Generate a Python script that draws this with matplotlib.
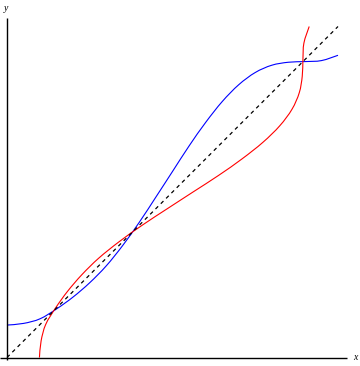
import matplotlib
matplotlib.use("Agg")
import matplotlib.pyplot as plt
from matplotlib.path import Path
from matplotlib.patches import PathPatch

# Blue curve f(x) (unit square)
blue_x = [0.00, 0.05, 0.10, 0.15, 0.20, 0.25, 0.30, 0.35, 0.40, 0.45, 0.50,
          0.55, 0.60, 0.65, 0.70, 0.75, 0.80, 0.85, 0.90, 0.95, 1.00]
blue_y = [0.098, 0.103, 0.117, 0.147, 0.183, 0.226, 0.277, 0.339, 0.409, 0.485, 0.562,
          0.639, 0.710, 0.773, 0.824, 0.861, 0.883, 0.892, 0.894, 0.897, 0.913]
# Red curve is the inverse: the same points with coordinates swapped
red_x = blue_y
red_y = blue_x

diag = [0.0, 1.0]

W, H = 360, 366
ox, oy, s = 7.0, 357.5, 331.0  # origin pixel and pixels per unit


def smooth_path(xs, ys):
    pts = list(zip(xs, ys))
    n = len(pts)
    verts = [pts[0]]
    codes = [Path.MOVETO]
    for i in range(n - 1):
        p0 = pts[i - 1] if i > 0 else pts[i]
        p1 = pts[i]
        p2 = pts[i + 1]
        p3 = pts[i + 2] if i + 2 < n else pts[i + 1]
        c1 = (p1[0] + (p2[0] - p0[0]) / 6, p1[1] + (p2[1] - p0[1]) / 6)
        c2 = (p2[0] - (p3[0] - p1[0]) / 6, p2[1] - (p3[1] - p1[1]) / 6)
        verts += [c1, c2, p2]
        codes += [Path.CURVE4] * 3
    return Path(verts, codes)


fig = plt.figure(figsize=(W / 100, H / 100), dpi=100)
ax = fig.add_axes([0, 0, 1, 1])
ax.set_xlim(-ox / s, (W - ox) / s)
ax.set_ylim((oy - H) / s, oy / s)
ax.axis("off")

# axes lines
ax.plot([-ox / s, (347 - ox) / s], [0, 0], color="black", lw=1.0, solid_capstyle="butt")
ax.plot([0, 0], [(oy - 360) / s, (oy - 18) / s], color="black", lw=1.0, solid_capstyle="butt")

ax.plot(diag, diag, color="black", lw=0.9, linestyle=(0, (3, 3)))
ax.add_patch(PathPatch(smooth_path(blue_x, blue_y), fill=False, edgecolor="blue", lw=0.8))
ax.add_patch(PathPatch(smooth_path(red_x, red_y), fill=False, edgecolor="red", lw=0.8))

ax.text((355 - ox) / s, 0, "x", fontsize=7, family="Liberation Serif", style="italic",
        ha="center", va="center")
ax.text(-1 / s, (oy - 8) / s, "y", fontsize=7, family="Liberation Serif", style="italic",
        ha="center", va="center")

fig.savefig("out.png", dpi=100)
